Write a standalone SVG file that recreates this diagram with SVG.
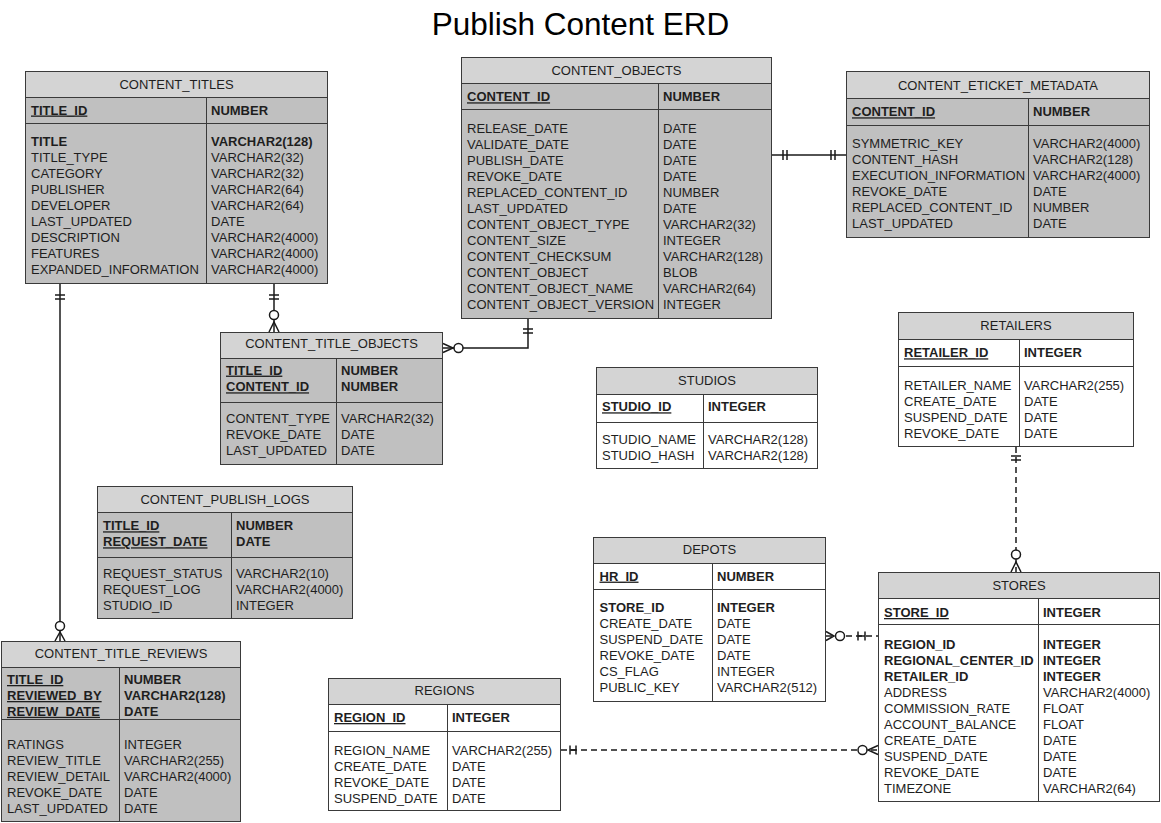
<svg xmlns="http://www.w3.org/2000/svg" width="1161" height="823" viewBox="0 0 1161 823">
<style>
  text { font-family: "Liberation Sans", Arial, sans-serif; font-size: 13px; fill: #1e1e1e; }
  .ttl { font-size: 31.5px; text-anchor: middle; fill: #000; }
  .c { text-anchor: middle; }
  .b { font-weight: bold; }
  .u { text-decoration: underline; }
  .gray { fill: #c0c0c0; stroke: #3a3a3a; stroke-width: 1; }
  .white { fill: #ffffff; stroke: #3a3a3a; stroke-width: 1; }
  .hd { fill: #d4d4d4; stroke: #3a3a3a; stroke-width: 1; }
  .ln { stroke: #3a3a3a; stroke-width: 1; fill: none; }
  .cn { stroke: #1a1a1a; stroke-width: 1.5; fill: none; }
  .dash { stroke-dasharray: 6 4; }
  .ring { stroke: #1a1a1a; stroke-width: 1.5; fill: #ffffff; }
</style>

<text class="ttl" x="580.5" y="35">Publish Content ERD</text>

<g id="connectors">
  <!-- CONTENT_TITLES -> CONTENT_TITLE_REVIEWS -->
  <g id="c_titles_reviews">
    <line class="cn" x1="60" y1="284" x2="60" y2="641"/>
    <line class="cn" x1="55" y1="295" x2="65" y2="295"/>
    <line class="cn" x1="55" y1="299" x2="65" y2="299"/>
    <path class="cn" d="M55,641 L60,632 L65,641"/>
    <circle class="ring" cx="60" cy="626" r="4.5"/>
  </g>
  <!-- CONTENT_TITLES -> CONTENT_TITLE_OBJECTS -->
  <g id="c_titles_titleobjects">
    <line class="cn" x1="274" y1="284" x2="274" y2="332"/>
    <line class="cn" x1="269" y1="295" x2="279" y2="295"/>
    <line class="cn" x1="269" y1="299" x2="279" y2="299"/>
    <path class="cn" d="M269,332 L274,322 L279,332"/>
    <circle class="ring" cx="274" cy="315" r="4.5"/>
  </g>
  <!-- CONTENT_OBJECTS -> CONTENT_TITLE_OBJECTS -->
  <g id="c_objects_titleobjects">
    <path class="cn" d="M528,318 V348 H443"/>
    <line class="cn" x1="523" y1="329" x2="533" y2="329"/>
    <line class="cn" x1="523" y1="333" x2="533" y2="333"/>
    <path class="cn" d="M443,343.5 L453,348 L443,352.5"/>
    <circle class="ring" cx="458.5" cy="348" r="4.5"/>
  </g>
  <!-- CONTENT_OBJECTS -> CONTENT_ETICKET_METADATA -->
  <g id="c_objects_eticket">
    <line class="cn" x1="772" y1="155" x2="846" y2="155"/>
    <line class="cn" x1="783" y1="150" x2="783" y2="160"/>
    <line class="cn" x1="787" y1="150" x2="787" y2="160"/>
    <line class="cn" x1="831" y1="150" x2="831" y2="160"/>
    <line class="cn" x1="835" y1="150" x2="835" y2="160"/>
  </g>
  <!-- RETAILERS -> STORES -->
  <g id="c_retailers_stores">
    <line class="cn dash" x1="1016" y1="447" x2="1016" y2="572"/>
    <line class="cn" x1="1011" y1="456" x2="1021" y2="456"/>
    <line class="cn" x1="1011" y1="460" x2="1021" y2="460"/>
    <path class="cn" d="M1011,572 L1016,562 L1021,572"/>
    <circle class="ring" cx="1016" cy="554.5" r="4.5"/>
  </g>
  <!-- DEPOTS -> STORES -->
  <g id="c_depots_stores">
    <line class="cn dash" x1="826" y1="636" x2="878" y2="636"/>
    <line class="cn" x1="858" y1="636" x2="865" y2="636"/>
    <path class="cn" d="M826,631.5 L834,636 L826,640.5"/>
    <circle class="ring" cx="840" cy="636" r="4.5"/>
    <line class="cn" x1="858" y1="631.5" x2="858" y2="640.5"/>
    <line class="cn" x1="865" y1="631.5" x2="865" y2="640.5"/>
  </g>
  <!-- REGIONS -> STORES -->
  <g id="c_regions_stores">
    <line class="cn dash" x1="561" y1="750" x2="878" y2="750"/>
    <line class="cn" x1="570" y1="750" x2="576" y2="750"/>
    <line class="cn" x1="570" y1="745.5" x2="570" y2="754.5"/>
    <line class="cn" x1="576" y1="745.5" x2="576" y2="754.5"/>
    <path class="cn" d="M878,745.5 L868,750 L878,754.5"/>
    <circle class="ring" cx="862.5" cy="750" r="4.5"/>
  </g>
</g>

<g id="content_titles">
  <rect class="gray" x="25.5" y="71.5" width="302" height="212"/>
  <rect class="hd" x="25.5" y="71.5" width="302" height="26"/>
  <line class="ln" x1="25.5" y1="123.5" x2="327.5" y2="123.5"/>
  <line class="ln" x1="206.5" y1="97.5" x2="206.5" y2="283.5"/>
  <text class="c" x="176.5" y="88.5">CONTENT_TITLES</text>
  <text class="b u" x="31" y="114.5">TITLE_ID</text>
  <text class="b" x="211" y="114.5">NUMBER</text>
  <text class="b" x="31" y="146">TITLE</text><text class="b" x="211" y="146">VARCHAR2(128)</text>
  <text x="31" y="162">TITLE_TYPE</text><text x="211" y="162">VARCHAR2(32)</text>
  <text x="31" y="178">CATEGORY</text><text x="211" y="178">VARCHAR2(32)</text>
  <text x="31" y="194">PUBLISHER</text><text x="211" y="194">VARCHAR2(64)</text>
  <text x="31" y="210">DEVELOPER</text><text x="211" y="210">VARCHAR2(64)</text>
  <text x="31" y="226">LAST_UPDATED</text><text x="211" y="226">DATE</text>
  <text x="31" y="242">DESCRIPTION</text><text x="211" y="242">VARCHAR2(4000)</text>
  <text x="31" y="258">FEATURES</text><text x="211" y="258">VARCHAR2(4000)</text>
  <text x="31" y="274">EXPANDED_INFORMATION</text><text x="211" y="274">VARCHAR2(4000)</text>
</g>

<g id="content_objects">
  <rect class="gray" x="461.5" y="57.5" width="310" height="261"/>
  <rect class="hd" x="461.5" y="57.5" width="310" height="26"/>
  <line class="ln" x1="461.5" y1="109.5" x2="771.5" y2="109.5"/>
  <line class="ln" x1="658.5" y1="83.5" x2="658.5" y2="318.5"/>
  <text class="c" x="616.5" y="74.5">CONTENT_OBJECTS</text>
  <text class="b u" x="467" y="101.3">CONTENT_ID</text>
  <text class="b" x="663" y="101.3">NUMBER</text>
  <text x="467" y="132.7">RELEASE_DATE</text><text x="663" y="132.7">DATE</text>
  <text x="467" y="148.7">VALIDATE_DATE</text><text x="663" y="148.7">DATE</text>
  <text x="467" y="164.7">PUBLISH_DATE</text><text x="663" y="164.7">DATE</text>
  <text x="467" y="180.7">REVOKE_DATE</text><text x="663" y="180.7">DATE</text>
  <text x="467" y="196.7">REPLACED_CONTENT_ID</text><text x="663" y="196.7">NUMBER</text>
  <text x="467" y="212.7">LAST_UPDATED</text><text x="663" y="212.7">DATE</text>
  <text x="467" y="228.7">CONTENT_OBJECT_TYPE</text><text x="663" y="228.7">VARCHAR2(32)</text>
  <text x="467" y="244.7">CONTENT_SIZE</text><text x="663" y="244.7">INTEGER</text>
  <text x="467" y="260.7">CONTENT_CHECKSUM</text><text x="663" y="260.7">VARCHAR2(128)</text>
  <text x="467" y="276.7">CONTENT_OBJECT</text><text x="663" y="276.7">BLOB</text>
  <text x="467" y="292.7">CONTENT_OBJECT_NAME</text><text x="663" y="292.7">VARCHAR2(64)</text>
  <text x="467" y="308.7">CONTENT_OBJECT_VERSION</text><text x="663" y="308.7">INTEGER</text>
</g>

<g id="content_eticket_metadata">
  <rect class="gray" x="846.5" y="71.5" width="303" height="166"/>
  <rect class="hd" x="846.5" y="71.5" width="303" height="27"/>
  <line class="ln" x1="846.5" y1="125.5" x2="1149.5" y2="125.5"/>
  <line class="ln" x1="1028.5" y1="98.5" x2="1028.5" y2="237.5"/>
  <text class="c" x="998" y="89.5">CONTENT_ETICKET_METADATA</text>
  <text class="b u" x="852" y="116.3">CONTENT_ID</text>
  <text class="b" x="1033" y="116.3">NUMBER</text>
  <text x="852" y="148">SYMMETRIC_KEY</text><text x="1033" y="148">VARCHAR2(4000)</text>
  <text x="852" y="164">CONTENT_HASH</text><text x="1033" y="164">VARCHAR2(128)</text>
  <text x="852" y="180">EXECUTION_INFORMATION</text><text x="1033" y="180">VARCHAR2(4000)</text>
  <text x="852" y="195.8">REVOKE_DATE</text><text x="1033" y="195.8">DATE</text>
  <text x="852" y="211.6">REPLACED_CONTENT_ID</text><text x="1033" y="211.6">NUMBER</text>
  <text x="852" y="227.5">LAST_UPDATED</text><text x="1033" y="227.5">DATE</text>
</g>

<g id="content_title_objects">
  <rect class="gray" x="220.5" y="332.5" width="222" height="132"/>
  <rect class="hd" x="220.5" y="332.5" width="222" height="26"/>
  <line class="ln" x1="220.5" y1="402.5" x2="442.5" y2="402.5"/>
  <line class="ln" x1="336.5" y1="358.5" x2="336.5" y2="464.5"/>
  <text class="c" x="331.5" y="348">CONTENT_TITLE_OBJECTS</text>
  <text class="b u" x="226" y="374.6">TITLE_ID</text><text class="b" x="341" y="374.6">NUMBER</text>
  <text class="b u" x="226" y="391.3">CONTENT_ID</text><text class="b" x="341" y="391.3">NUMBER</text>
  <text x="226" y="422.5">CONTENT_TYPE</text><text x="341" y="422.5">VARCHAR2(32)</text>
  <text x="226" y="438.5">REVOKE_DATE</text><text x="341" y="438.5">DATE</text>
  <text x="226" y="454.5">LAST_UPDATED</text><text x="341" y="454.5">DATE</text>
</g>

<g id="content_publish_logs">
  <rect class="gray" x="97.5" y="486.5" width="255" height="132"/>
  <rect class="hd" x="97.5" y="486.5" width="255" height="26"/>
  <line class="ln" x1="97.5" y1="557.5" x2="352.5" y2="557.5"/>
  <line class="ln" x1="231.5" y1="512.5" x2="231.5" y2="618.5"/>
  <text class="c" x="225" y="503.6">CONTENT_PUBLISH_LOGS</text>
  <text class="b u" x="103" y="530.3">TITLE_ID</text><text class="b" x="236" y="530.3">NUMBER</text>
  <text class="b u" x="103" y="546.3">REQUEST_DATE</text><text class="b" x="236" y="546.3">DATE</text>
  <text x="103" y="578">REQUEST_STATUS</text><text x="236" y="578">VARCHAR2(10)</text>
  <text x="103" y="594">REQUEST_LOG</text><text x="236" y="594">VARCHAR2(4000)</text>
  <text x="103" y="610">STUDIO_ID</text><text x="236" y="610">INTEGER</text>
</g>

<g id="content_title_reviews">
  <rect class="gray" x="1.5" y="641.5" width="239" height="180"/>
  <rect class="hd" x="1.5" y="641.5" width="239" height="26"/>
  <line class="ln" x1="1.5" y1="719.5" x2="240.5" y2="719.5"/>
  <line class="ln" x1="119.5" y1="667.5" x2="119.5" y2="821.5"/>
  <text class="c" x="121" y="658">CONTENT_TITLE_REVIEWS</text>
  <text class="b u" x="7" y="684">TITLE_ID</text><text class="b" x="124" y="684">NUMBER</text>
  <text class="b u" x="7" y="700">REVIEWED_BY</text><text class="b" x="124" y="700">VARCHAR2(128)</text>
  <text class="b u" x="7" y="715.8">REVIEW_DATE</text><text class="b" x="124" y="715.8">DATE</text>
  <text x="7" y="748.5">RATINGS</text><text x="124" y="748.5">INTEGER</text>
  <text x="7" y="764.5">REVIEW_TITLE</text><text x="124" y="764.5">VARCHAR2(255)</text>
  <text x="7" y="780.5">REVIEW_DETAIL</text><text x="124" y="780.5">VARCHAR2(4000)</text>
  <text x="7" y="796.5">REVOKE_DATE</text><text x="124" y="796.5">DATE</text>
  <text x="7" y="812.5">LAST_UPDATED</text><text x="124" y="812.5">DATE</text>
</g>

<g id="studios">
  <rect class="white" x="596.5" y="367.5" width="221" height="101"/>
  <rect class="hd" x="596.5" y="367.5" width="221" height="27"/>
  <line class="ln" x1="596.5" y1="422.5" x2="817.5" y2="422.5"/>
  <line class="ln" x1="703.5" y1="394.5" x2="703.5" y2="468.5"/>
  <text class="c" x="707" y="384.6">STUDIOS</text>
  <text class="b u" x="602" y="411.3">STUDIO_ID</text><text class="b" x="708" y="411.3">INTEGER</text>
  <text x="602" y="444.3">STUDIO_NAME</text><text x="708" y="444.3">VARCHAR2(128)</text>
  <text x="602" y="459.8">STUDIO_HASH</text><text x="708" y="459.8">VARCHAR2(128)</text>
</g>

<g id="depots">
  <rect class="white" x="593.5" y="537.5" width="232" height="164"/>
  <rect class="hd" x="593.5" y="537.5" width="232" height="26"/>
  <line class="ln" x1="593.5" y1="589.5" x2="825.5" y2="589.5"/>
  <line class="ln" x1="712.5" y1="563.5" x2="712.5" y2="701.5"/>
  <text class="c" x="709.5" y="553.9">DEPOTS</text>
  <text class="b u" x="599.5" y="580.6">HR_ID</text><text class="b" x="717" y="580.6">NUMBER</text>
  <text class="b" x="599.5" y="612.3">STORE_ID</text><text class="b" x="717" y="612.3">INTEGER</text>
  <text x="599.5" y="628.3">CREATE_DATE</text><text x="717" y="628.3">DATE</text>
  <text x="599.5" y="644.3">SUSPEND_DATE</text><text x="717" y="644.3">DATE</text>
  <text x="599.5" y="660.3">REVOKE_DATE</text><text x="717" y="660.3">DATE</text>
  <text x="599.5" y="676.3">CS_FLAG</text><text x="717" y="676.3">INTEGER</text>
  <text x="599.5" y="692.3">PUBLIC_KEY</text><text x="717" y="692.3">VARCHAR2(512)</text>
</g>

<g id="retailers">
  <rect class="white" x="898.5" y="312.5" width="235" height="134"/>
  <rect class="hd" x="898.5" y="312.5" width="235" height="27"/>
  <line class="ln" x1="898.5" y1="366.5" x2="1133.5" y2="366.5"/>
  <line class="ln" x1="1019.5" y1="339.5" x2="1019.5" y2="446.5"/>
  <text class="c" x="1016" y="330.3">RETAILERS</text>
  <text class="b u" x="904" y="357.3">RETAILER_ID</text><text class="b" x="1024" y="357.3">INTEGER</text>
  <text x="904" y="389.6">RETAILER_NAME</text><text x="1024" y="389.6">VARCHAR2(255)</text>
  <text x="904" y="405.6">CREATE_DATE</text><text x="1024" y="405.6">DATE</text>
  <text x="904" y="421.6">SUSPEND_DATE</text><text x="1024" y="421.6">DATE</text>
  <text x="904" y="437.6">REVOKE_DATE</text><text x="1024" y="437.6">DATE</text>
</g>

<g id="stores">
  <rect class="white" x="878.5" y="572.5" width="281" height="229"/>
  <rect class="hd" x="878.5" y="572.5" width="281" height="26"/>
  <line class="ln" x1="878.5" y1="624.5" x2="1159.5" y2="624.5"/>
  <line class="ln" x1="1038.5" y1="598.5" x2="1038.5" y2="801.5"/>
  <text class="c" x="1019" y="589.6">STORES</text>
  <text class="b u" x="884" y="617">STORE_ID</text><text class="b" x="1043" y="617">INTEGER</text>
  <text class="b" x="884" y="648.6">REGION_ID</text><text class="b" x="1043" y="648.6">INTEGER</text>
  <text class="b" x="884" y="664.6">REGIONAL_CENTER_ID</text><text class="b" x="1043" y="664.6">INTEGER</text>
  <text class="b" x="884" y="680.6">RETAILER_ID</text><text class="b" x="1043" y="680.6">INTEGER</text>
  <text x="884" y="696.6">ADDRESS</text><text x="1043" y="696.6">VARCHAR2(4000)</text>
  <text x="884" y="712.6">COMMISSION_RATE</text><text x="1043" y="712.6">FLOAT</text>
  <text x="884" y="728.6">ACCOUNT_BALANCE</text><text x="1043" y="728.6">FLOAT</text>
  <text x="884" y="744.6">CREATE_DATE</text><text x="1043" y="744.6">DATE</text>
  <text x="884" y="760.6">SUSPEND_DATE</text><text x="1043" y="760.6">DATE</text>
  <text x="884" y="776.6">REVOKE_DATE</text><text x="1043" y="776.6">DATE</text>
  <text x="884" y="792.6">TIMEZONE</text><text x="1043" y="792.6">VARCHAR2(64)</text>
</g>

<g id="regions">
  <rect class="white" x="328.5" y="678.5" width="232" height="132"/>
  <rect class="hd" x="328.5" y="678.5" width="232" height="26"/>
  <line class="ln" x1="328.5" y1="731.5" x2="560.5" y2="731.5"/>
  <line class="ln" x1="447.5" y1="704.5" x2="447.5" y2="810.5"/>
  <text class="c" x="444.5" y="695">REGIONS</text>
  <text class="b u" x="334" y="722">REGION_ID</text><text class="b" x="452" y="722">INTEGER</text>
  <text x="334" y="754.5">REGION_NAME</text><text x="452" y="754.5">VARCHAR2(255)</text>
  <text x="334" y="770.5">CREATE_DATE</text><text x="452" y="770.5">DATE</text>
  <text x="334" y="786.5">REVOKE_DATE</text><text x="452" y="786.5">DATE</text>
  <text x="334" y="802.5">SUSPEND_DATE</text><text x="452" y="802.5">DATE</text>
</g>
</svg>
